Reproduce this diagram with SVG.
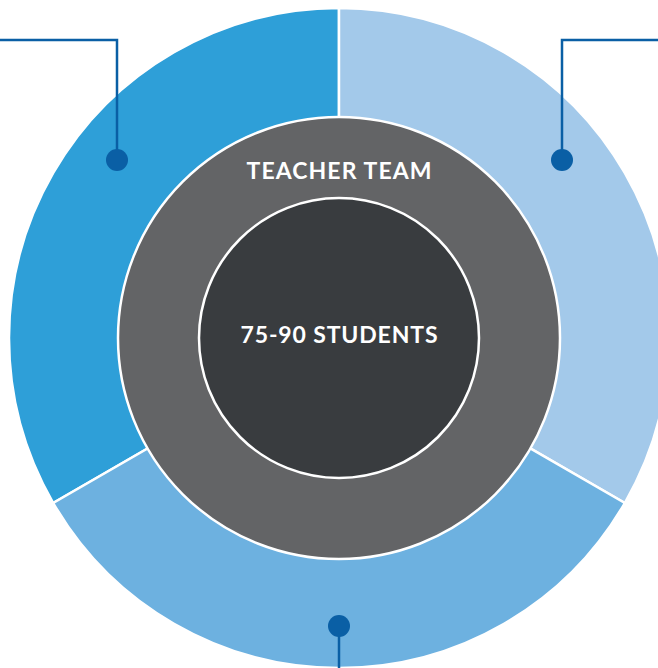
<svg xmlns="http://www.w3.org/2000/svg" width="658" height="668" viewBox="0 0 658 668">
<style>
.seg{stroke:#ffffff;stroke-width:2.5}
.ring{stroke:#ffffff;stroke-width:2.5}
.call{fill:none;stroke:#0a5fa5;stroke-width:2.5}
.dot{fill:#0a5fa5}
.lbl{font-family:Lato,"Liberation Sans",sans-serif;font-size:23px;font-weight:700;fill:#ffffff;text-anchor:middle}
</style>
<rect width="658" height="668" fill="#ffffff"/>
<g id="segment-left"><path class="seg" fill="#2e9fd8" d="M339,338 L339,8 A330,330 0 0 0 53.2,503 Z"/></g>
<g id="segment-right"><path class="seg" fill="#a3c9ea" d="M339,338 L339,8 A330,330 0 0 1 624.8,503 Z"/></g>
<g id="segment-bottom"><path class="seg" fill="#6db1e0" d="M339,338 L624.8,503 A330,330 0 0 1 53.2,503 Z"/></g>
<g id="teacher-team">
<circle class="ring" cx="339" cy="338" r="221" fill="#636466"/>
<text class="lbl" x="339" y="179" textLength="185" lengthAdjust="spacing">TEACHER TEAM</text>
</g>
<g id="students">
<circle class="ring" cx="339" cy="338" r="140" fill="#393c3f"/>
<text class="lbl" x="339" y="343" textLength="197" lengthAdjust="spacing">75-90 STUDENTS</text>
</g>
<g id="connectors">
<polyline class="call" points="0,40 117,40 117,160"/>
<circle class="dot" cx="117" cy="160" r="11"/>
<polyline class="call" points="658,40 562,40 562,160"/>
<circle class="dot" cx="562" cy="160" r="11"/>
<line class="call" x1="339" y1="626" x2="339" y2="668"/>
<circle class="dot" cx="339" cy="626" r="11"/>
</g>
</svg>
